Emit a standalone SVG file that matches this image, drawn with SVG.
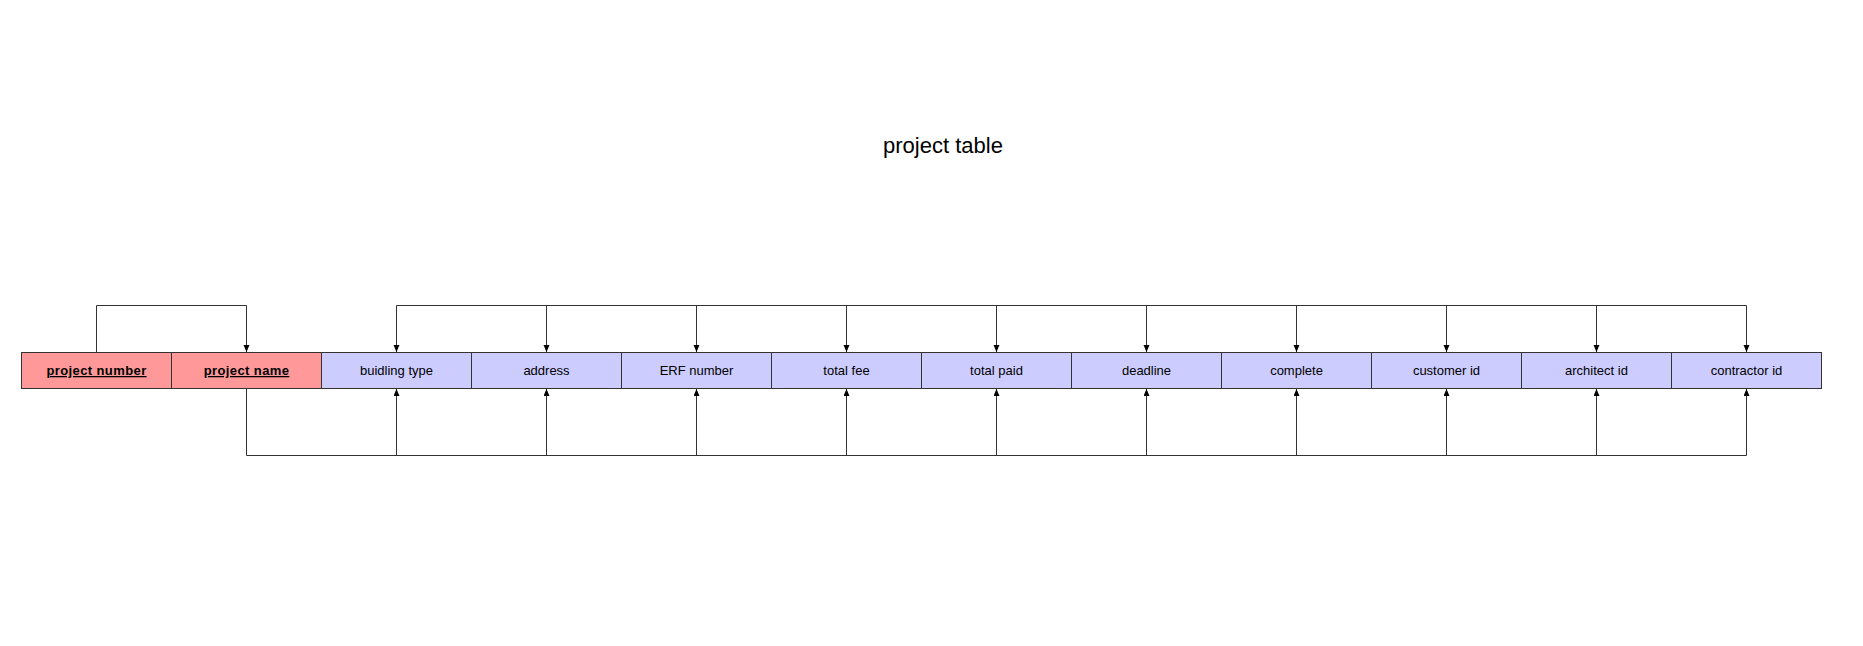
<svg xmlns="http://www.w3.org/2000/svg" width="1863" height="646" viewBox="0 0 1863 646">
<style>
.pk{fill:#ff9999;stroke:#333;stroke-width:1}
.bl{fill:#ccccff;stroke:#333;stroke-width:1}
.t{font-family:"Liberation Sans",Arial,sans-serif;font-size:13px;fill:#000;text-anchor:middle}
.b{font-weight:bold;text-decoration:underline;letter-spacing:0.4px}
.c{fill:none;stroke:#333;stroke-width:1}
.ttl{font-family:"Liberation Sans",Arial,sans-serif;font-size:22px;fill:#000;text-anchor:middle}
</style>
<defs>
<marker id="ar" markerUnits="userSpaceOnUse" markerWidth="10" markerHeight="10" refX="7" refY="3" orient="auto">
<path d="M0,0 L7,3 L0,6 z" fill="#000"/>
</marker>
</defs>
<rect width="1863" height="646" fill="#fff"/>
<text class="ttl" x="943" y="153">project table</text>
<g id="connectors">
<path class="c" d="M96.5,352 V305.5 H246.5 V352" marker-end="url(#ar)"/>
<path class="c" d="M396.5,305.5 H1746.5"/>
<path class="c" d="M396.5,305.5 V352" marker-end="url(#ar)"/>
<path class="c" d="M546.5,305.5 V352" marker-end="url(#ar)"/>
<path class="c" d="M696.5,305.5 V352" marker-end="url(#ar)"/>
<path class="c" d="M846.5,305.5 V352" marker-end="url(#ar)"/>
<path class="c" d="M996.5,305.5 V352" marker-end="url(#ar)"/>
<path class="c" d="M1146.5,305.5 V352" marker-end="url(#ar)"/>
<path class="c" d="M1296.5,305.5 V352" marker-end="url(#ar)"/>
<path class="c" d="M1446.5,305.5 V352" marker-end="url(#ar)"/>
<path class="c" d="M1596.5,305.5 V352" marker-end="url(#ar)"/>
<path class="c" d="M1746.5,305.5 V352" marker-end="url(#ar)"/>
<path class="c" d="M246.5,389 V455.5 H1746.5"/>
<path class="c" d="M396.5,455.5 V389" marker-end="url(#ar)"/>
<path class="c" d="M546.5,455.5 V389" marker-end="url(#ar)"/>
<path class="c" d="M696.5,455.5 V389" marker-end="url(#ar)"/>
<path class="c" d="M846.5,455.5 V389" marker-end="url(#ar)"/>
<path class="c" d="M996.5,455.5 V389" marker-end="url(#ar)"/>
<path class="c" d="M1146.5,455.5 V389" marker-end="url(#ar)"/>
<path class="c" d="M1296.5,455.5 V389" marker-end="url(#ar)"/>
<path class="c" d="M1446.5,455.5 V389" marker-end="url(#ar)"/>
<path class="c" d="M1596.5,455.5 V389" marker-end="url(#ar)"/>
<path class="c" d="M1746.5,455.5 V389" marker-end="url(#ar)"/>
</g>
<g id="project-number"><rect class="pk" x="21.5" y="352.5" width="150" height="36"/><text class="t b" x="96.5" y="375">project number</text></g>
<g id="project-name"><rect class="pk" x="171.5" y="352.5" width="150" height="36"/><text class="t b" x="246.5" y="375">project name</text></g>
<g id="buidling-type"><rect class="bl" x="321.5" y="352.5" width="150" height="36"/><text class="t" x="396.5" y="375">buidling type</text></g>
<g id="address"><rect class="bl" x="471.5" y="352.5" width="150" height="36"/><text class="t" x="546.5" y="375">address</text></g>
<g id="erf-number"><rect class="bl" x="621.5" y="352.5" width="150" height="36"/><text class="t" x="696.5" y="375">ERF number</text></g>
<g id="total-fee"><rect class="bl" x="771.5" y="352.5" width="150" height="36"/><text class="t" x="846.5" y="375">total fee</text></g>
<g id="total-paid"><rect class="bl" x="921.5" y="352.5" width="150" height="36"/><text class="t" x="996.5" y="375">total paid</text></g>
<g id="deadline"><rect class="bl" x="1071.5" y="352.5" width="150" height="36"/><text class="t" x="1146.5" y="375">deadline</text></g>
<g id="complete"><rect class="bl" x="1221.5" y="352.5" width="150" height="36"/><text class="t" x="1296.5" y="375">complete</text></g>
<g id="customer-id"><rect class="bl" x="1371.5" y="352.5" width="150" height="36"/><text class="t" x="1446.5" y="375">customer id</text></g>
<g id="architect-id"><rect class="bl" x="1521.5" y="352.5" width="150" height="36"/><text class="t" x="1596.5" y="375">architect id</text></g>
<g id="contractor-id"><rect class="bl" x="1671.5" y="352.5" width="150" height="36"/><text class="t" x="1746.5" y="375">contractor id</text></g>
</svg>
